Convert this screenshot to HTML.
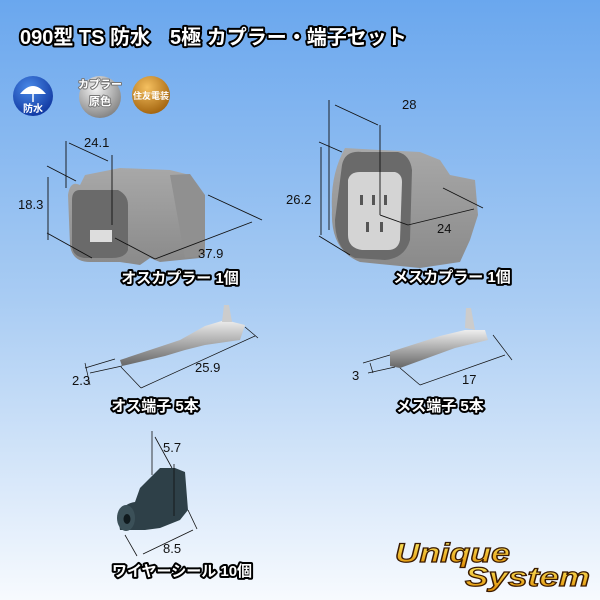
<!DOCTYPE html>
<html><head><meta charset="utf-8"><style>
html,body{margin:0;padding:0;}
body{width:600px;height:600px;overflow:hidden;}
svg{display:block;}
.st{font-family:"Liberation Sans","Noto Sans CJK JP",sans-serif;font-weight:bold;fill:#000;stroke:#000;stroke-width:4px;stroke-linejoin:round;}
.lb{font-family:"Liberation Sans","Noto Sans CJK JP",sans-serif;font-weight:bold;fill:#fff;}
.dim{font-family:"Liberation Sans",sans-serif;font-size:13px;fill:#111;}
.ln{stroke:#111;stroke-width:0.9;fill:none;}
</style></head><body>
<svg width="600" height="600" viewBox="0 0 600 600" xmlns="http://www.w3.org/2000/svg">
<defs>
<linearGradient id="bg" x1="0" y1="0" x2="0" y2="1">
<stop offset="0" stop-color="#6aa7ee"/><stop offset="0.5" stop-color="#a9ccf3"/><stop offset="1" stop-color="#f7fafe"/>
</linearGradient>
<radialGradient id="blue" cx="0.4" cy="0.3" r="0.8"><stop offset="0" stop-color="#4a8ae8"/><stop offset="1" stop-color="#0a2f9a"/></radialGradient>
<radialGradient id="silv" cx="0.4" cy="0.3" r="0.8"><stop offset="0" stop-color="#f4f4f4"/><stop offset="1" stop-color="#777"/></radialGradient>
<radialGradient id="gold" cx="0.4" cy="0.3" r="0.8"><stop offset="0" stop-color="#f5c060"/><stop offset="1" stop-color="#9a5a05"/></radialGradient>
<linearGradient id="gry" x1="0" y1="0" x2="0" y2="1"><stop offset="0" stop-color="#a8a8a8"/><stop offset="1" stop-color="#8a8a8a"/></linearGradient>
<linearGradient id="met" x1="0" y1="0" x2="0" y2="1"><stop offset="0" stop-color="#eee"/><stop offset="0.5" stop-color="#aaa"/><stop offset="1" stop-color="#666"/></linearGradient>
<linearGradient id="yl" x1="0" y1="0" x2="0" y2="1"><stop offset="0" stop-color="#fff36a"/><stop offset="1" stop-color="#e08a00"/></linearGradient>
</defs>
<rect width="600" height="600" fill="url(#bg)"/>
<g font-size="20"><text x="20" y="44" class="st">090型 TS 防水　5極 カプラー・端子セット</text><text x="20" y="44" class="lb">090型 TS 防水　5極 カプラー・端子セット</text></g>
<circle cx="33" cy="96" r="20" fill="url(#blue)"/>
<path d="M20 94 Q33 78 46 94 Z" fill="#fff"/><line x1="33" y1="94" x2="33" y2="102" stroke="#fff" stroke-width="1.5"/>
<text x="33" y="112" font-size="10" class="lb" text-anchor="middle">防水</text>
<circle cx="100" cy="97" r="21" fill="url(#silv)"/>
<g font-size="11" text-anchor="middle"><text x="100" y="88" class="st" style="stroke:#777;fill:#777;stroke-width:2">カプラー</text><text x="100" y="88" class="lb">カプラー</text>
<text x="100" y="105" class="st" style="stroke:#777;fill:#777;stroke-width:2">原色</text><text x="100" y="105" class="lb">原色</text></g>
<circle cx="151" cy="95" r="19" fill="url(#gold)"/>
<text x="151" y="99" font-size="9" class="lb" text-anchor="middle">住友電装</text>

<!-- male coupler -->
<path d="M80 185 Q70 180 68 195 L70 245 Q72 262 90 262 L120 262 L140 265 L150 258 L160 262 L200 258 L205 200 L200 190 L190 175 L170 170 L120 168 L85 175 Z" fill="url(#gry)"/>
<path d="M80 190 L118 190 Q128 195 128 205 L128 250 Q125 258 112 258 L84 258 Q72 256 72 245 L72 200 Q72 190 80 190Z" fill="#6a6a6a"/>
<rect x="90" y="230" width="22" height="12" fill="#ddd"/>
<path d="M170 175 L190 174 L205 195 L205 255 L185 258 Z" fill="#909090"/>
<g class="ln">
<line x1="66" y1="141" x2="66" y2="188"/><line x1="112" y1="155" x2="112" y2="225"/>
<line x1="69" y1="143" x2="108" y2="161"/>
<line x1="48" y1="177" x2="48" y2="240"/>
<line x1="47" y1="166" x2="76" y2="181"/><line x1="47" y1="233" x2="92" y2="258"/>
<line x1="208" y1="195" x2="262" y2="220"/><line x1="155" y1="259" x2="252" y2="222"/>
<line x1="115" y1="238" x2="155" y2="259"/>
</g>
<text x="84" y="147" class="dim">24.1</text>
<text x="18" y="209" class="dim">18.3</text>
<text x="198" y="258" class="dim">37.9</text>
<!-- female coupler -->
<path d="M345 148 L380 150 L420 152 L440 160 L450 175 L475 180 L478 215 L470 240 L460 262 L420 268 L360 262 Q330 250 332 210 Q330 175 345 148Z" fill="url(#gry)"/>
<path d="M342 165 Q345 150 362 152 L398 152 Q410 155 412 170 L410 240 Q405 258 385 260 L355 258 Q335 250 335 220 Z" fill="#6a6a6a"/>
<path d="M348 180 Q350 172 360 172 L395 172 Q402 174 402 182 L400 240 Q398 250 388 250 L362 250 Q348 248 348 235 Z" fill="#d4d4d4"/>
<g fill="#555"><rect x="360" y="195" width="3" height="10"/><rect x="372" y="195" width="3" height="10"/><rect x="384" y="195" width="3" height="10"/><rect x="366" y="222" width="3" height="10"/><rect x="380" y="222" width="3" height="10"/></g>
<g class="ln">
<line x1="329" y1="100" x2="329" y2="230"/><line x1="380" y1="125" x2="380" y2="215"/>
<line x1="335" y1="105" x2="378" y2="125"/>
<line x1="321" y1="147" x2="321" y2="235"/>
<line x1="319" y1="142" x2="342" y2="152"/><line x1="319" y1="236" x2="350" y2="255"/>
<line x1="443" y1="188" x2="483" y2="208"/><line x1="380" y1="215" x2="408" y2="225"/>
<line x1="408" y1="225" x2="474" y2="209"/>
</g>
<text x="402" y="109" class="dim">28</text>
<text x="286" y="204" class="dim">26.2</text>
<text x="437" y="233" class="dim">24</text>
<g font-size="15" text-anchor="middle">
<text x="180" y="283" class="st">オスカプラー 1個</text><text x="180" y="283" class="lb">オスカプラー 1個</text>
<text x="452" y="282" class="st">メスカプラー 1個</text><text x="452" y="282" class="lb">メスカプラー 1個</text>
</g>

<!-- male terminal -->
<path d="M120 360 L165 345 L180 340 L205 326 L225 320 L245 325 L240 340 L205 345 L185 350 L165 356 L122 366Z" fill="url(#met)"/>
<path d="M222 322 L224 305 L229 305 L232 322Z" fill="#ccc"/>
<g class="ln" style="stroke-width:0.7">
<line x1="85" y1="368" x2="115" y2="359"/><line x1="90" y1="373" x2="122" y2="366"/>
<line x1="85" y1="363" x2="90" y2="385"/>
<line x1="121" y1="367" x2="141" y2="388"/><line x1="141" y1="388" x2="255" y2="336"/><line x1="245" y1="327" x2="258" y2="338"/>
</g>
<text x="72" y="385" class="dim" font-size="11">2.3</text>
<text x="195" y="372" class="dim" font-size="12">25.9</text>
<!-- female terminal -->
<path d="M390 352 L440 336 L465 330 L485 330 L488 340 L455 348 L400 368 L390 366Z" fill="url(#met)"/>
<path d="M465 328 L466 308 L471 308 L475 330Z" fill="#ccc"/>
<g class="ln" style="stroke-width:0.7">
<line x1="363" y1="363" x2="390" y2="355"/><line x1="368" y1="373" x2="395" y2="367"/>
<line x1="370" y1="363" x2="373" y2="373"/>
<line x1="400" y1="368" x2="420" y2="385"/><line x1="420" y1="385" x2="505" y2="355"/><line x1="493" y1="335" x2="512" y2="360"/>
</g>
<text x="352" y="380" class="dim" font-size="12">3</text>
<text x="462" y="384" class="dim" font-size="12">17</text>
<g font-size="15" text-anchor="middle">
<text x="155" y="411" class="st">オス端子 5本</text><text x="155" y="411" class="lb">オス端子 5本</text>
<text x="440" y="411" class="st">メス端子 5本</text><text x="440" y="411" class="lb">メス端子 5本</text>
</g>

<!-- seal -->
<path d="M120 530 Q115 505 135 502 L140 488 L160 468 L175 468 L185 472 L188 510 L180 520 L160 528 L145 530 Z" fill="#2e4048"/>
<ellipse cx="126" cy="518" rx="9" ry="13" fill="#3b5058"/>
<ellipse cx="127" cy="519" rx="3.5" ry="5" fill="#101a1e"/>
<g class="ln" style="stroke-width:0.8">
<line x1="152" y1="431" x2="152" y2="475"/><line x1="174" y1="464" x2="174" y2="516"/>
<line x1="155" y1="437" x2="172" y2="468"/>
<line x1="188" y1="510" x2="197" y2="529"/><line x1="125" y1="535" x2="137" y2="556"/><line x1="143" y1="554" x2="193" y2="530"/>
</g>
<text x="163" y="452" class="dim" font-size="10">5.7</text>
<text x="163" y="553" class="dim" font-size="10">8.5</text>
<g font-size="15" text-anchor="middle">
<text x="182" y="576" class="st">ワイヤーシール 10個</text><text x="182" y="576" class="lb">ワイヤーシール 10個</text>
</g>

<!-- logo -->
<g font-family="Liberation Sans,sans-serif" font-weight="bold" font-style="italic" font-size="27" fill="url(#yl)" stroke="#3a1a00" stroke-width="1.2">
<text x="395" y="562" textLength="115" lengthAdjust="spacingAndGlyphs">Unique</text>
<text x="465" y="586" textLength="125" lengthAdjust="spacingAndGlyphs">System</text>
</g>
</svg>
</body></html>
